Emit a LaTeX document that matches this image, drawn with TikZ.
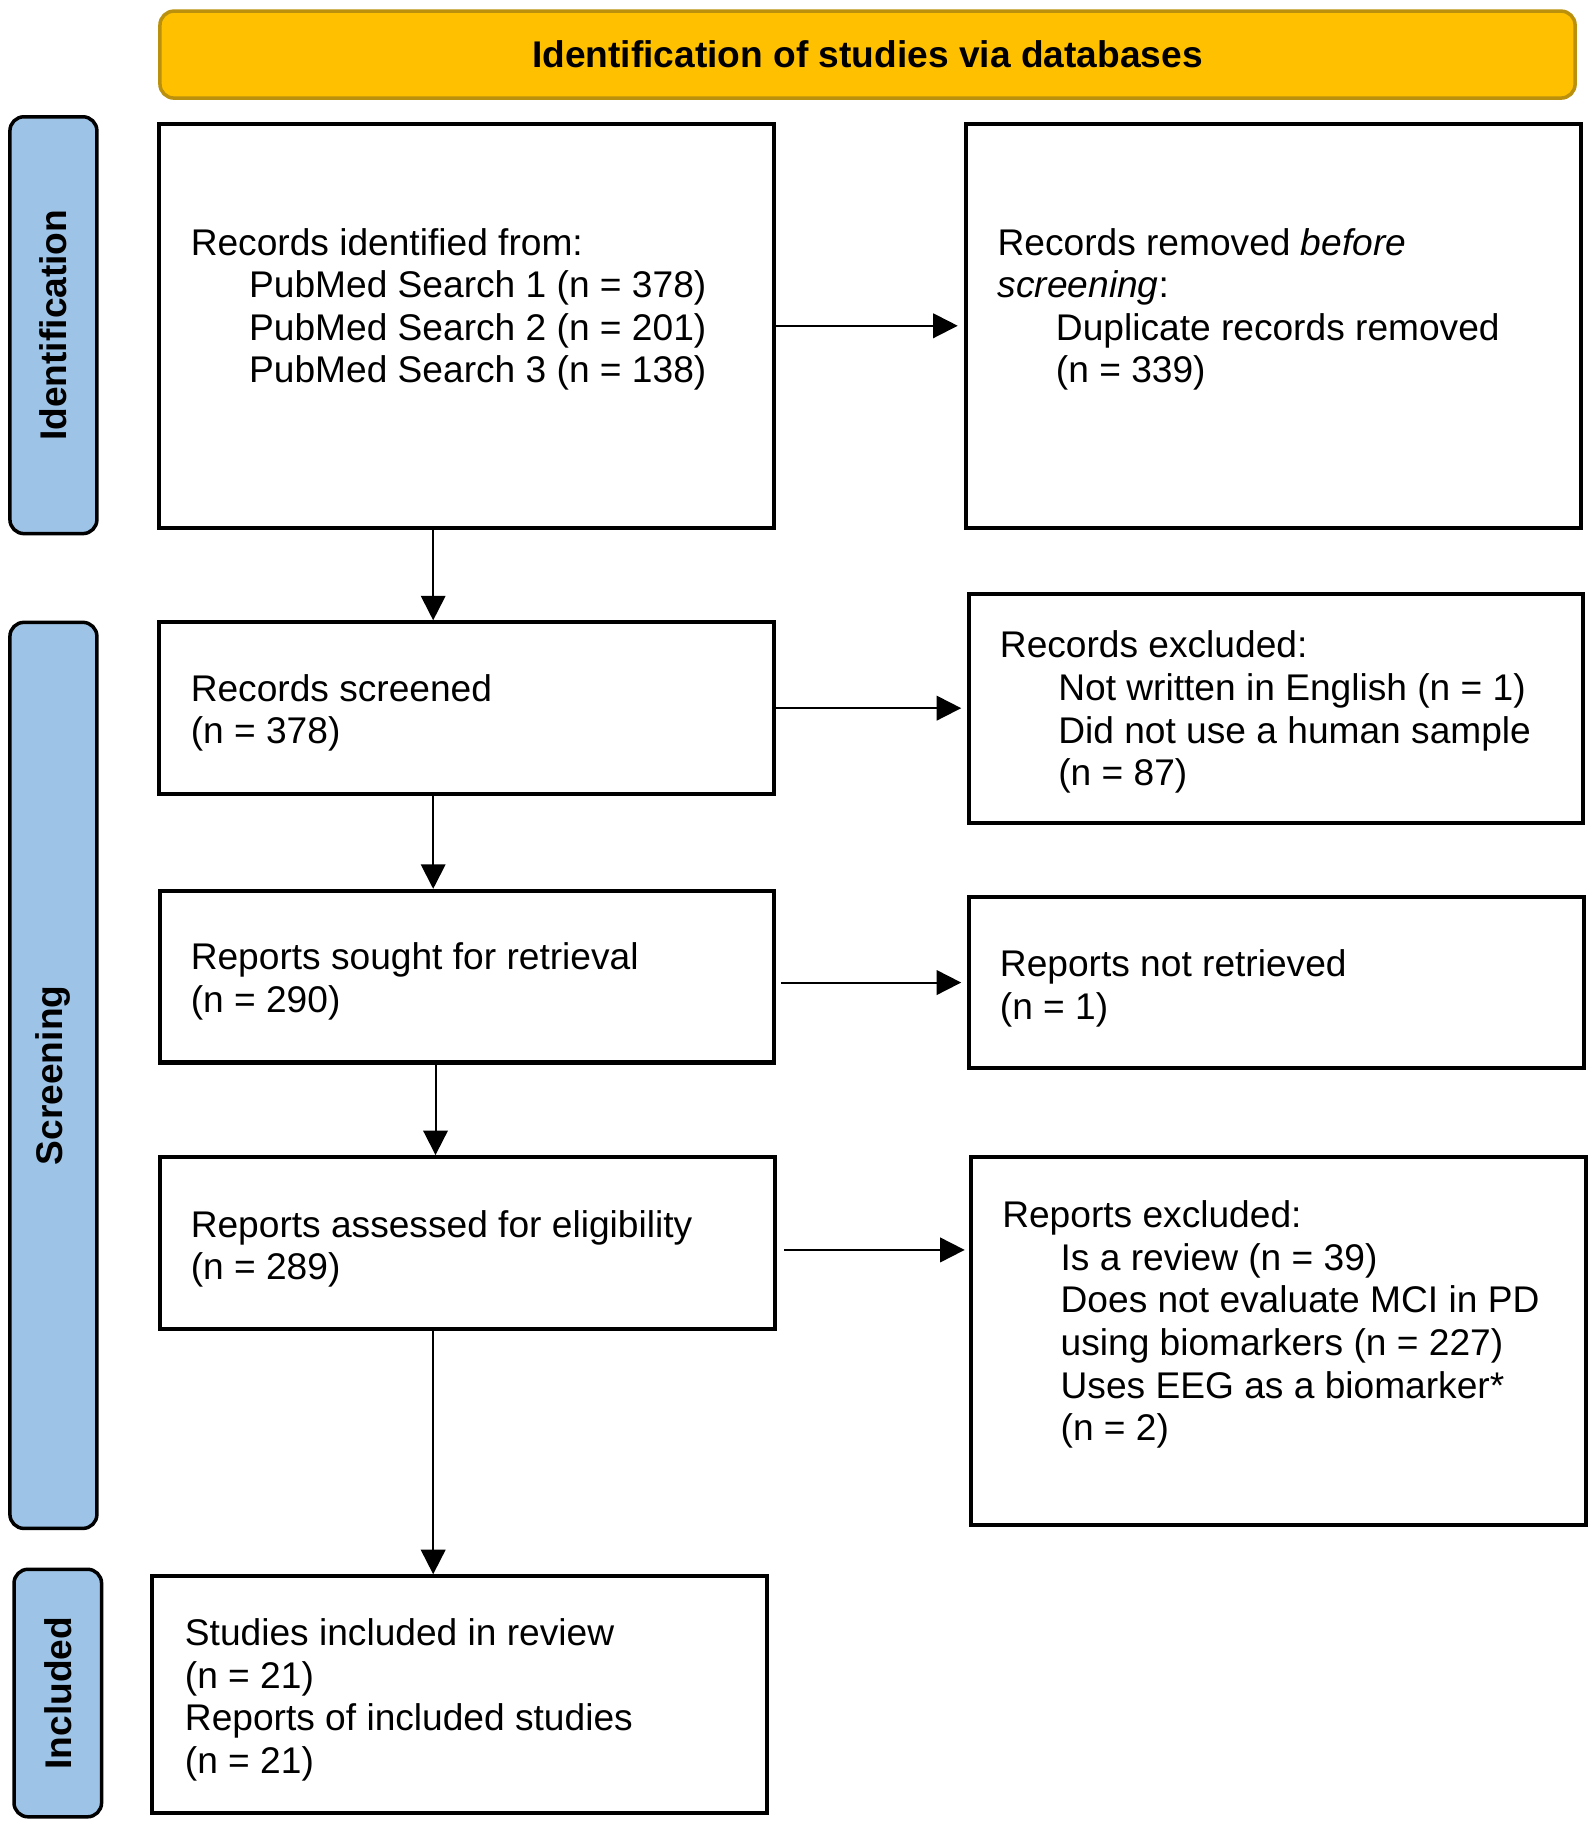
\documentclass[tikz,border=0pt]{standalone}
\usepackage{fontspec}
\setmainfont{Liberation Sans}
\usetikzlibrary{arrows.meta,fit}
\definecolor{bangold}{HTML}{FFC000}
\definecolor{bangolddark}{HTML}{BA900C}
\definecolor{sideblue}{HTML}{9DC3E6}
\begin{document}
\begin{tikzpicture}[x=0.5pt,y=-0.5pt,
  box/.style={draw=black,line width=1.75pt,fill=white,rectangle,inner sep=0pt},
  banner/.style={draw=bangolddark,line width=1.5pt,fill=bangold,rectangle,rounded corners=6pt,inner sep=0pt},
  side/.style={draw=black,line width=1.5pt,fill=sideblue,rectangle,rounded corners=6pt,inner sep=0pt},
  boldtext/.style={font=\bfseries\fontsize{15.9}{18.25}\selectfont,inner sep=0pt},
  boxtext/.style={font=\fontsize{15.9}{18.25}\selectfont,align=left,inner sep=0pt,anchor=base west},
  arr/.style={-{Triangle[length=10.5pt,width=10.5pt]},line width=0.85pt}
]
\useasboundingbox (0,0) rectangle (1366,1565.6);
% banner
\node[banner,fit={(137,9.5)(1349,84)}] (ban) {};
\node[boldtext] (bantxt) at (ban.center) {Identification of studies via databases};
% side labels
\node[side,fit={(8.5,100)(83,457)}] (sid) {};
\node[boldtext,rotate=90] (sidtxt) at (sid.center) {Identification};
\node[side,fit={(8.5,533)(83,1309)}] (sscr) {};
\node[boldtext,rotate=90] (sscrtxt) at (sscr.center) {Screening};
\node[side,fit={(12,1344)(87,1556)}] (sinc) {};
\node[boldtext,rotate=90] (sinctxt) at (sinc.center) {Included};
% boxes
\node[box,fit={(136,106)(663,452)}] (b1) {};
\node[box,fit={(827,106)(1354,452)}] (b2) {};
\node[box,fit={(136,533)(663,680)}] (b3) {};
\node[box,fit={(830,509)(1356,705)}] (b4) {};
\node[box,fit={(137,763)(663,910)}] (b5) {};
\node[box,fit={(830,768)(1357,915)}] (b6) {};
\node[box,fit={(137,991)(664,1138)}] (b7) {};
\node[box,fit={(832,991)(1358,1306)}] (b8) {};
\node[box,fit={(130,1350)(657,1553)}] (b9) {};
% texts (anchored at the baseline of the last line)
\node[boxtext] (t1) at (163,328) {Records identified from:\\
  \hspace*{25pt}PubMed Search 1 (n = 378)\\
  \hspace*{25pt}PubMed Search 2 (n = 201)\\
  \hspace*{25pt}PubMed Search 3 (n = 138)};
\node[boxtext] (t2) at (854,328) {Records removed \textit{before}\\
  \textit{screening}:\\
  \hspace*{25pt}Duplicate records removed\\
  \hspace*{25pt}(n = 339)};
\node[boxtext] (t3) at (163,637) {Records screened\\(n = 378)};
\node[boxtext] (t4) at (856,673) {Records excluded:\\
  \hspace*{25pt}Not written in English (n = 1)\\
  \hspace*{25pt}Did not use a human sample\\
  \hspace*{25pt}(n = 87)};
\node[boxtext] (t5) at (163,867) {Reports sought for retrieval\\(n = 290)};
\node[boxtext] (t6) at (856,873) {Reports not retrieved\\(n = 1)};
\node[boxtext] (t7) at (163,1096) {Reports assessed for eligibility\\(n = 289)};
\node[boxtext] (t8) at (858,1234) {Reports excluded:\\
  \hspace*{25pt}Is a review (n = 39)\\
  \hspace*{25pt}Does not evaluate MCI in PD\\
  \hspace*{25pt}using biomarkers (n = 227)\\
  \hspace*{25pt}Uses EEG as a biomarker*\\
  \hspace*{25pt}(n = 2)};
\node[boxtext] (t9) at (158,1519) {Studies included in review\\
  (n = 21)\\
  Reports of included studies\\
  (n = 21)};
% connectors
\coordinate (colA) at (371,0);
\coordinate (colB) at (373,0);
\draw[arr,shorten >=2.5pt] (b1.east) -- (b2.west);
\draw[arr,shorten >=2.5pt] (b3.east) -- (b3.east -| b4.west);
\draw[arr,shorten >=2.5pt] ([xshift=2pt]b5.east |- b6.west) -- (b6.west);
\draw[arr,shorten >=2pt] ([xshift=3pt,yshift=-3pt]b7.east) -- ([yshift=-3pt]b7.east -| b8.west);
\draw[arr] (b1.south -| colA) -- (b3.north -| colA);
\draw[arr] (b3.south -| colA) -- (b5.north -| colA);
\draw[arr] (b5.south -| colB) -- (b7.north -| colB);
\draw[arr] (b7.south -| colA) -- (b9.north -| colA);
\end{tikzpicture}
\end{document}
